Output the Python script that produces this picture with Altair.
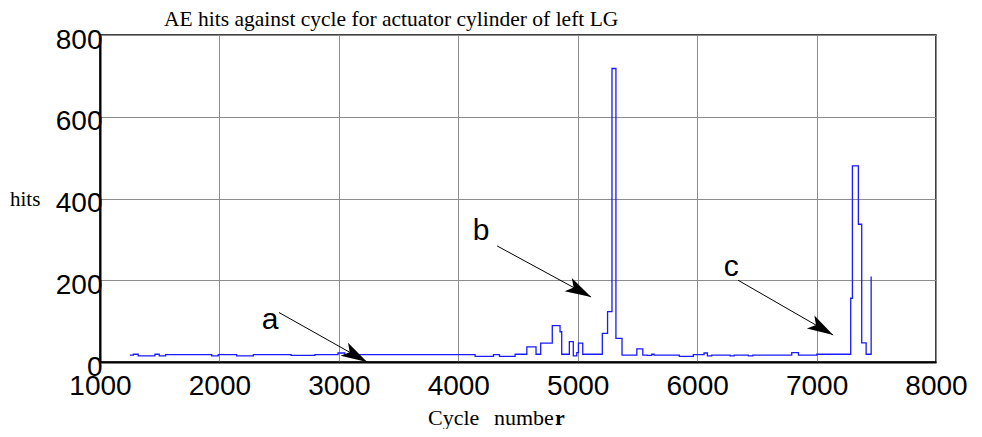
import math
import altair as alt
import pandas as pd

# ---- data ----
cycle = [1250, 1280, 1320, 1460, 1496, 1549, 1935, 1990, 2144, 2284,
         2600, 2800, 2993, 3050, 4141, 4295, 4345, 4476, 4574, 4651,
         4690, 4787, 4852, 4866, 4930, 4963, 4992, 5006, 5042, 5206,
         5250, 5287, 5320, 5371, 5495, 5545, 5583, 5620, 5639, 5851,
         5968, 6058, 6086, 6122, 6276, 6310, 6429, 6466, 6792, 6848,
         7002, 7286, 7300, 7350, 7378, 7415, 7457]
hits = [17, 19, 15, 19, 15, 18, 15, 18, 15, 18,
        16, 18, 22, 18, 14, 18, 14, 19, 37, 19,
        46, 89, 74, 19, 50, 15, 23, 46, 19, 70,
        123, 718, 58, 17, 32, 17, 16, 19, 17, 14,
        18, 22, 15, 17, 15, 17, 15, 17, 23, 17,
        19, 156, 480, 337, 47, 19, 209]

x_ticks = [1000, 2000, 3000, 4000, 5000, 6000, 7000, 8000]
y_ticks = [0, 200, 400, 600, 800]

arrow_label = ["a", "b", "c"]
label_cycle = [2424, 4191, 6285]
label_hits = [81, 298, 210]
arrow_start_cycle = [2499, 4325, 6343]
arrow_start_hits = [121, 284, 200]
arrow_tip_cycle = [3236, 5112, 7139]
arrow_tip_hits = [0, 159, 66]

title_text = "AE hits against cycle for actuator cylinder of left LG"
y_title = "hits"
x_title_parts = ["Cycle", "numbe", "r"]

# ---- layout ----
W, H = 836, 327
XMIN, XMAX, YMIN, YMAX = 1000, 8000, 0, 800


def to_px(c, v):
    return ((c - XMIN) / (XMAX - XMIN) * W, H - (v - YMIN) / (YMAX - YMIN) * H)


angles = []
for sc, sh, tc, th in zip(arrow_start_cycle, arrow_start_hits, arrow_tip_cycle, arrow_tip_hits):
    x0, y0 = to_px(sc, sh)
    x1, y1 = to_px(tc, th)
    angles.append(90 + math.degrees(math.atan2(y1 - y0, x1 - x0)))

line_df = pd.DataFrame({"cycle": cycle, "hits": hits})
arrow_df = pd.DataFrame({
    "label": arrow_label,
    "lc": label_cycle, "lh": label_hits,
    "cycle": arrow_start_cycle, "hits": arrow_start_hits,
    "cycle2": arrow_tip_cycle, "hits2": arrow_tip_hits,
    "angle": angles,
})

xscale = alt.Scale(domain=[XMIN, XMAX], nice=False, zero=False)
yscale = alt.Scale(domain=[YMIN, YMAX], nice=False, zero=False)

line = alt.Chart(line_df).mark_line(
    interpolate="step-after", color="#1a1aff", strokeWidth=1.3
).encode(
    x=alt.X("cycle:Q", scale=xscale, title=None,
            axis=alt.Axis(values=x_ticks, format="d", labelPadding=10, labelBaseline="top")),
    y=alt.Y("hits:Q", scale=yscale, title=None,
            axis=alt.Axis(values=y_ticks, format="d", labelPadding=-2, labelOffset=5,
                          labelBaseline="middle", labelAlign="right")),
)

shafts = alt.Chart(arrow_df).mark_rule(color="black", strokeWidth=1).encode(
    x=alt.X("cycle:Q", scale=xscale, title=None),
    y=alt.Y("hits:Q", scale=yscale, title=None),
    x2="cycle2:Q",
    y2="hits2:Q",
)

heads = alt.Chart(arrow_df).mark_point(
    shape="M0,0 L0.55,1.9 L0,1.45 L-0.55,1.9 Z",
    filled=True, color="black", opacity=1, size=750, strokeWidth=0,
).encode(
    x=alt.X("cycle2:Q", scale=xscale, title=None),
    y=alt.Y("hits2:Q", scale=yscale, title=None),
    angle=alt.Angle("angle:Q", scale=None),
)

letters = alt.Chart(arrow_df).mark_text(
    font="Liberation Sans", fontSize=30, color="black",
    align="center", baseline="alphabetic",
).encode(
    x=alt.X("lc:Q", scale=xscale, title=None),
    y=alt.Y("lh:Q", scale=yscale, title=None),
    text="label:N",
)


def free_text(txt, x, y, size=22, weight="normal"):
    return alt.Chart(pd.DataFrame({"t": [txt]})).mark_text(
        align="left", baseline="alphabetic", font="Liberation Serif",
        fontSize=size, fontWeight=weight, color="black",
    ).encode(x=alt.value(x), y=alt.value(y), text="t:N")


texts = [
    free_text(title_text, 64, -9, size=21.5),
    free_text(y_title, -90, 171, size=21),
    free_text(x_title_parts[0], 328, 390),
    free_text(x_title_parts[1], 394, 390),
    free_text(x_title_parts[2], 455, 390, weight="bold"),
]

chart = alt.layer(line, shafts, heads, letters, *texts).properties(
    width=W, height=H,
    autosize=alt.AutoSizeParams(type="none"),
    padding={"left": 92, "top": 27, "right": 38, "bottom": 67},
).configure_view(
    stroke="black", strokeWidth=1.5
).configure_axis(
    grid=True, gridColor="#8c8c8c", gridWidth=1, gridOpacity=1,
    domainColor="black", domainWidth=2, ticks=False,
    labelFont="Liberation Sans", labelFontSize=28, labelColor="black",
    labelFlush=False, labelOverlap=False, labelBound=False,
)

chart.save("out.html", embed_options={"renderer": "svg", "actions": False})
